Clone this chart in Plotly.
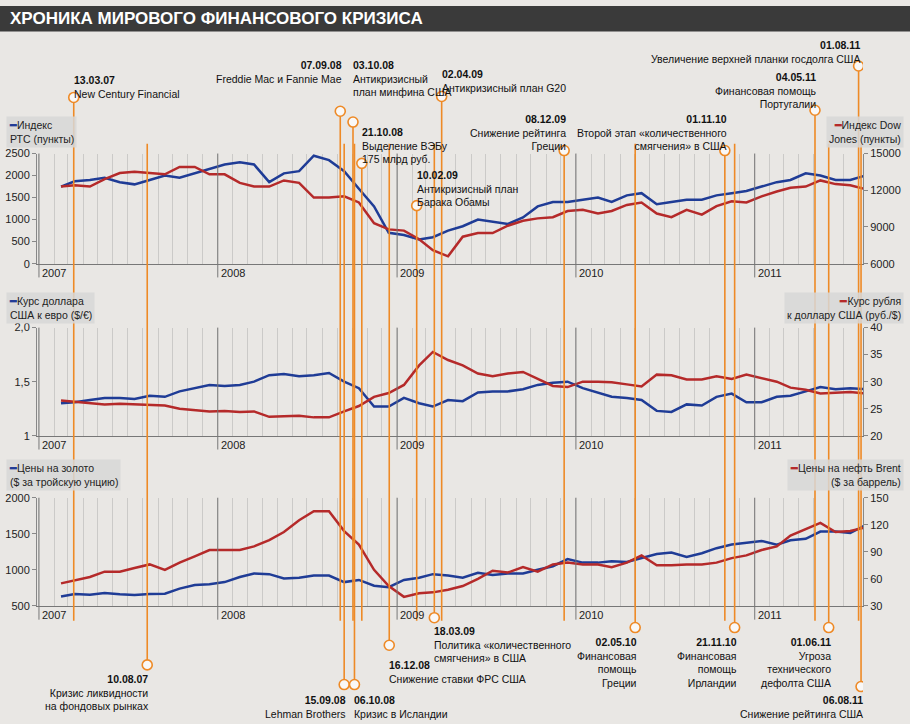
import pandas as pd
import plotly.graph_objects as go
from plotly.subplots import make_subplots

# monthly points, Jan 2007 .. Aug 2011
months = list(pd.date_range("2007-01-15", periods=56, freq="MS") + pd.Timedelta(days=14))

rts = [1750, 1870, 1900, 1950, 1850, 1800, 1900, 2000, 1950, 2050, 2150, 2250,
       2300, 2250, 1850, 2050, 2100, 2450, 2350, 2100, 1700, 1300, 700, 650,
       550, 600, 750, 850, 1000, 950, 900, 1050, 1300, 1400, 1400, 1450,
       1500, 1400, 1550, 1600, 1350, 1400, 1450, 1450, 1550, 1600, 1650, 1750,
       1850, 1900, 2050, 2000, 1900, 1900, 2000, 1600]
dow = [12300, 12400, 12300, 12900, 13400, 13500, 13400, 13300, 13900, 13900, 13300, 13300,
       12600, 12300, 12300, 12800, 12600, 11400, 11400, 11500, 11000, 9300, 8800, 8700,
       8000, 7100, 6600, 8200, 8500, 8500, 9100, 9500, 9700, 9800, 10300, 10400,
       10100, 10300, 10800, 11000, 10100, 9800, 10400, 10000, 10700, 11100, 11000, 11500,
       11900, 12200, 12300, 12800, 12500, 12400, 12100, 11000]
eurusd = [1.30, 1.31, 1.33, 1.35, 1.35, 1.34, 1.37, 1.36, 1.41, 1.44, 1.47, 1.46,
          1.47, 1.50, 1.56, 1.57, 1.55, 1.56, 1.58, 1.50, 1.44, 1.27, 1.27, 1.35,
          1.30, 1.27, 1.33, 1.32, 1.40, 1.41, 1.41, 1.43, 1.47, 1.49, 1.50, 1.44,
          1.40, 1.36, 1.35, 1.33, 1.23, 1.22, 1.29, 1.28, 1.36, 1.39, 1.31, 1.31,
          1.36, 1.37, 1.41, 1.45, 1.43, 1.44, 1.43, 1.44]
usdrub = [26.5, 26.3, 26.0, 25.8, 25.9, 25.8, 25.6, 25.6, 25.0, 24.8, 24.5, 24.6,
          24.4, 24.5, 23.5, 23.6, 23.7, 23.4, 23.4, 24.5, 25.5, 27.2, 27.9, 29.4,
          33.0, 35.5, 34.0, 33.0, 31.5, 31.0, 31.5, 31.8, 30.5, 29.2, 29.0, 30.0,
          30.0, 29.9, 29.5, 29.1, 31.3, 31.2, 30.4, 30.4, 31.0, 30.5, 31.3, 30.7,
          30.0, 28.9, 28.5, 27.8, 28.0, 28.1, 27.8, 29.0]
gold = [630, 665, 655, 680, 660, 650, 665, 670, 740, 790, 800, 830,
        900, 950, 940, 880, 890, 920, 920, 830, 860, 780, 760, 860,
        890, 940, 920, 890, 960, 930, 950, 950, 1000, 1050, 1150, 1100,
        1100, 1120, 1110, 1160, 1220, 1240, 1180, 1230, 1300, 1350, 1370, 1400,
        1350, 1410, 1430, 1530, 1530, 1510, 1620, 1750]
brent = [55, 58, 62, 68, 68, 72, 76, 70, 78, 85, 92, 92,
         92, 96, 103, 112, 125, 135, 135, 113, 98, 70, 52, 40,
         44, 45, 48, 52, 60, 69, 67, 73, 68, 76, 78, 76,
         76, 73, 78, 86, 75, 75, 76, 76, 78, 83, 86, 92,
         96, 108, 115, 122, 112, 113, 117, 105]

BLUE = "#1f3c96"
RED = "#b52a2a"
ORANGE = "#ee8a26"

# events: date, side, circle y (px), text side, text lines (first is bold date), text top y (px)
events = [
    ("2007-03-13", "top", 93, "left", ["13.03.07", "New Century Financial"], 67),
    ("2008-09-07", "top", 107, "right", ["07.09.08", "Freddie Mac и Fannie Mae"], 52),
    ("2008-10-03", "top", 118, "left", ["03.10.08", "Антикризисный", "план минфина США"], 52),
    ("2008-10-21", "top", 160, "left", ["21.10.08", "Выделение ВЭБу", "175 млрд руб."], 120),
    ("2009-02-10", "top", 203, "left", ["10.02.09", "Антикризисный план", "Барака Обамы"], 164),
    ("2009-04-02", "top", 92, "left", ["02.04.09", "Антикризисный план G20"], 61),
    ("2009-12-08", "top", 147, "right", ["08.12.09", "Снижение рейтинга", "Греции"], 107),
    ("2010-11-01", "top", 147, "right", ["01.11.10", "Второй этап «количественного", "смягчения» в США"], 107),
    ("2011-05-04", "top", 106, "right", ["04.05.11", "Финансовая помощь", "Португалии"], 64),
    ("2011-08-01", "top", 61, "right", ["01.08.11", "Увеличение верхней планки госдолга США"], 32),
    ("2007-08-10", "bottom", 670, "right", ["10.08.07", "Кризис ликвидности", "на фондовых рынках"], 676),
    ("2008-09-15", "bottom", 690, "right", ["15.09.08", "Lehman Brothers"], 698),
    ("2008-10-06", "bottom", 690, "left", ["06.10.08", "Кризис в Исландии"], 698),
    ("2008-12-16", "bottom", 650, "left", ["16.12.08", "Снижение ставки ФРС США"], 662),
    ("2009-03-18", "bottom", 622, "left", ["18.03.09", "Политика «количественного", "смягчения» в США"], 627),
    ("2010-05-02", "bottom", 632, "right", ["02.05.10", "Финансовая", "помощь", "Греции"], 639),
    ("2010-11-21", "bottom", 632, "right", ["21.11.10", "Финансовая", "помощь", "Ирландии"], 639),
    ("2011-06-01", "bottom", 632, "right", ["01.06.11", "Угроза", "технического", "дефолта США"], 639),
    ("2011-08-06", "bottom", 692, "right", ["06.08.11", "Снижение рейтинга США"], 698),
]

W, H = 910, 724
def py(p):
    return 1 - p / H

fig = make_subplots(rows=3, cols=1, specs=[[{"secondary_y": True}]] * 3)

panels = [
    (rts, dow, [0, 2500], [6000, 15000], [0, 500, 1000, 1500, 2000, 2500], [6000, 9000, 12000, 15000],
     ["0", "500", "1000", "1500", "2000", "2500"], ["6000", "9000", "12000", "15000"], (150, 262)),
    (eurusd, usdrub, [1, 2], [20, 40], [1, 1.5, 2], [20, 25, 30, 35, 40],
     ["1", "1,5", "2,0"], ["20", "25", "30", "35", "40"], (327, 437)),
    (gold, brent, [500, 2000], [30, 150], [500, 1000, 1500, 2000], [30, 60, 90, 120, 150],
     ["500", "1000", "1500", "2000"], ["30", "60", "90", "120", "150"], (500, 610)),
]

xr = ["2006-12-28", "2011-08-10"]
for i, (l, r, lr, rr, lt, rt, ltt, rtt, (top, bot)) in enumerate(panels, start=1):
    fig.add_trace(go.Scatter(x=months, y=l, mode="lines", line=dict(color=BLUE, width=2.5), showlegend=False), row=i, col=1, secondary_y=False)
    fig.add_trace(go.Scatter(x=months, y=r, mode="lines", line=dict(color=RED, width=2.5), showlegend=False), row=i, col=1, secondary_y=True)
    sfx = "" if i == 1 else str(i)
    fig.layout["xaxis" + sfx].update(domain=[37 / W, 863 / W], range=xr, showticklabels=False,
                                     showgrid=True, gridcolor="rgba(150,150,150,0.35)", gridwidth=1,
                                     dtick="M1", tick0="2007-01-01", showline=True, linecolor="#777",
                                     ticks="", zeroline=False)
    ly = fig.layout["yaxis" + ("" if i == 1 else str(2 * i - 1))]
    ry = fig.layout["yaxis" + str(2 * i)]
    ly.update(domain=[py(bot), py(top)], range=lr, tickvals=lt, ticktext=ltt, showgrid=False,
              showline=True, linecolor="#888", ticks="outside", ticklen=4, tickcolor="#888",
              tickfont=dict(size=11, color="#222"), zeroline=False)
    ry.update(range=rr, tickvals=rt, ticktext=rtt, showgrid=False, showline=True, linecolor="#888",
              ticks="outside", ticklen=4, tickcolor="#888", tickfont=dict(size=11, color="#222"), zeroline=False)
    for yr in range(2007, 2012):
        fig.add_shape(type="line", xref="x", yref="paper", x0=f"{yr}-01-01", x1=f"{yr}-01-01",
                      y0=py(bot + 14), y1=py(top), line=dict(color="#777", width=1))
        fig.add_annotation(xref="x", yref="paper", x=f"{yr}-01-01", y=py(bot + 1), text=str(yr),
                           showarrow=False, xanchor="left", yanchor="top", xshift=1,
                           font=dict(size=11, color="#222"))

legends = [
    (6, 112, "left", BLUE, "Индекс<br>РТС (пункты)"),
    (904, 112, "right", RED, "Индекс Dow<br>Jones (пункты)"),
    (6, 291, "left", BLUE, "Курс доллара<br>США к евро ($/€)"),
    (904, 291, "right", RED, "Курс рубля<br>к доллару США (руб./$)"),
    (6, 461, "left", BLUE, "Цены на золото<br>($ за тройскую унцию)"),
    (904, 461, "right", RED, "Цены на нефть Brent<br>($ за баррель)"),
]
for x, y, side, col, txt in legends:
    t = f"<span style='color:{col}'><b>━</b></span>" + txt
    fig.add_annotation(xref="paper", yref="paper", x=x / W, y=py(y), text=t, showarrow=False,
                       xanchor=side, yanchor="top", align="right" if side == "right" else "left",
                       bgcolor="rgba(215,215,215,0.85)", font=dict(size=10.5, color="#222"), borderpad=2)

for d, side, cy, tside, lines, ty in events:
    if side == "top":
        y0, y1 = cy + 5, 625
    else:
        y0, y1 = 140, cy - 5
    fig.add_shape(type="line", xref="x", yref="paper", x0=d, x1=d, y0=py(y0), y1=py(y1),
                  line=dict(color=ORANGE, width=1.6), layer="above")
    fig.add_shape(type="circle", xref="x", yref="paper", xsizemode="pixel", ysizemode="pixel",
                  xanchor=d, yanchor=py(cy), x0=-5, x1=5, y0=-5, y1=5,
                  line=dict(color=ORANGE, width=1.6), fillcolor="rgba(255,255,255,0.7)")
    txt = "<b>" + lines[0] + "</b><br>" + "<br>".join(lines[1:])
    fig.add_annotation(xref="x", yref="paper", x=d, y=py(ty), text=txt, showarrow=False,
                       xanchor=tside, yanchor="top", align=tside, xshift=-2 if tside == "left" else 4,
                       font=dict(size=10.5, color="#111"))

fig.add_shape(type="rect", xref="paper", yref="paper", x0=0, x1=1, y0=py(26), y1=1,
              fillcolor="#3a3a3a", line=dict(width=0), layer="below")
fig.add_annotation(xref="paper", yref="paper", x=8 / W, y=py(13), text="<b>ХРОНИКА МИРОВОГО ФИНАНСОВОГО КРИЗИСА</b>",
                   showarrow=False, xanchor="left", yanchor="middle", font=dict(size=17, color="white"))

fig.update_layout(width=W, height=H, margin=dict(l=0, r=0, t=0, b=0),
                  paper_bgcolor="#e9e7e4", plot_bgcolor="rgba(0,0,0,0)",
                  font=dict(family="Arial, Liberation Sans, sans-serif"), showlegend=False)

fig.write_html("out.html", config={"displayModeBar": False},
               post_script="document.body.style.margin='0';document.body.style.overflow='hidden';")
